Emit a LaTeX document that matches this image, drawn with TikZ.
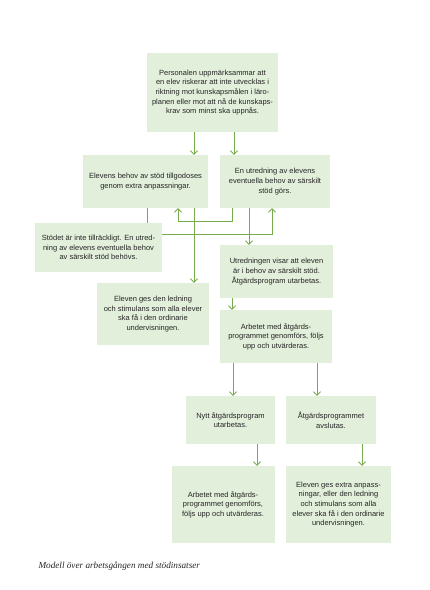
\documentclass[tikz,border=0pt]{standalone}
\usepackage{fontspec}
\setmainfont{Liberation Sans}
\newfontfamily\capfont{Liberation Serif}
\usetikzlibrary{arrows.meta}
\definecolor{boxgreen}{RGB}{226,239,218}
\definecolor{linegreen}{RGB}{118,172,76}
\begin{document}
\begin{tikzpicture}[
 x=1pt,y=-1pt,
 box/.style={fill=boxgreen,inner sep=0pt,align=center,text=black!85,
  font=\fontsize{7.5}{9.6}\selectfont},
 wh/.style 2 args={minimum width=#1pt,minimum height=#2pt},
 line/.style={draw=linegreen,line width=.9pt},
 arr/.style={line,-{Straight Barb[length=3.5pt,width=7pt]}},
 caption/.style={font=\capfont\itshape\fontsize{9.2}{11}\selectfont,text=black!85}]
 \useasboundingbox (0,0) rectangle (430,590);
 % First step.
 \node[box,wh={131}{79}] (top) at (212.5,92.5)
  {Personalen uppmärksammar att\\en elev riskerar att inte utvecklas i\\riktning mot kunskapsmålen i läro-\\planen eller mot att nå de kunskaps-\\krav som minst ska uppnås.};
 % Extra adjustments or an inquiry.
 \node[box,wh={125}{53}] (behov) at (145.5,181.5)
  {Elevens behov av stöd tillgodoses\\genom extra anpassningar.};
 \node[box,wh={110}{53}] (utred) at (275,181.5)
  {En utredning av elevens\\eventuella behov av särskilt\\stöd görs.};
 \node[box,wh={127}{49}] (stodet) at (98.5,247.5)
  {Stödet är inte tillräckligt. En utred-\\ning av elevens eventuella behov\\av särskilt stöd behövs.};
 \node[box,wh={113}{53}] (visar) at (276.5,271.5)
  {Utredningen visar att eleven\\är i behov av särskilt stöd.\\Åtgärdsprogram utarbetas.};
 \node[box,wh={112}{62}] (ledning) at (153,314)
  {Eleven ges den ledning\\och stimulans som alla elever\\ska få i den ordinarie\\undervisningen.};
 \node[box,wh={112}{53}] (arbete) at (276,336.5)
  {Arbetet med åtgärds-\\programmet genomförs, följs\\upp och utvärderas.};
 % After the follow-up.
 \node[box,wh={89}{48}] (nytt) at (230.5,420)
  {Nytt åtgärdsprogram\\utarbetas.};
 \node[box,wh={90}{48}] (avslut) at (331,420)
  {Åtgärdsprogrammet\\avslutas.};
 \node[box,wh={103}{77}] (arbete2) at (223,504.5)
  {Arbetet med åtgärds-\\programmet genomförs,\\följs upp och utvärderas.};
 \node[box,wh={105}{77}] (extra) at (338.5,504.5)
  {Eleven ges extra anpass-\\ningar, eller den ledning\\och stimulans som alla\\elever ska få i den ordinarie\\undervisningen.};
 % Connectors.
 \draw[arr] (194,0 |- top.south) -- (194,0 |- behov.north);
 \draw[arr] (234,0 |- top.south) -- (234,0 |- utred.north);
 \draw[line] (147,0 |- behov.south) -- (147,0 |- stodet.north);
 \draw[arr] (194,0 |- behov.south) -- (194,0 |- ledning.north);
 \draw[arr] (232,0 |- utred.south) -- (232,221) -| (178,0 |- behov.south);
 \draw[arr] (stodet.east |- 0,234) -| (272,0 |- utred.south);
 \draw[arr] (249,0 |- utred.south) -- (249,0 |- visar.north);
 \draw[arr] (232,0 |- visar.south) -- (232,0 |- arbete.north);
 \draw[arr] (233,0 |- arbete.south) -- (233,0 |- nytt.north);
 \draw[arr] (317,0 |- arbete.south) -- (317,0 |- avslut.north);
 \draw[arr] (257,0 |- nytt.south) -- (257,0 |- arbete2.north);
 \draw[arr] (362,0 |- avslut.south) -- (362,0 |- extra.north);
 % Caption.
 \node[caption,anchor=base west] (cap) at (35,568)
  {Modell över arbetsgången med stödinsatser};
\end{tikzpicture}
\end{document}
